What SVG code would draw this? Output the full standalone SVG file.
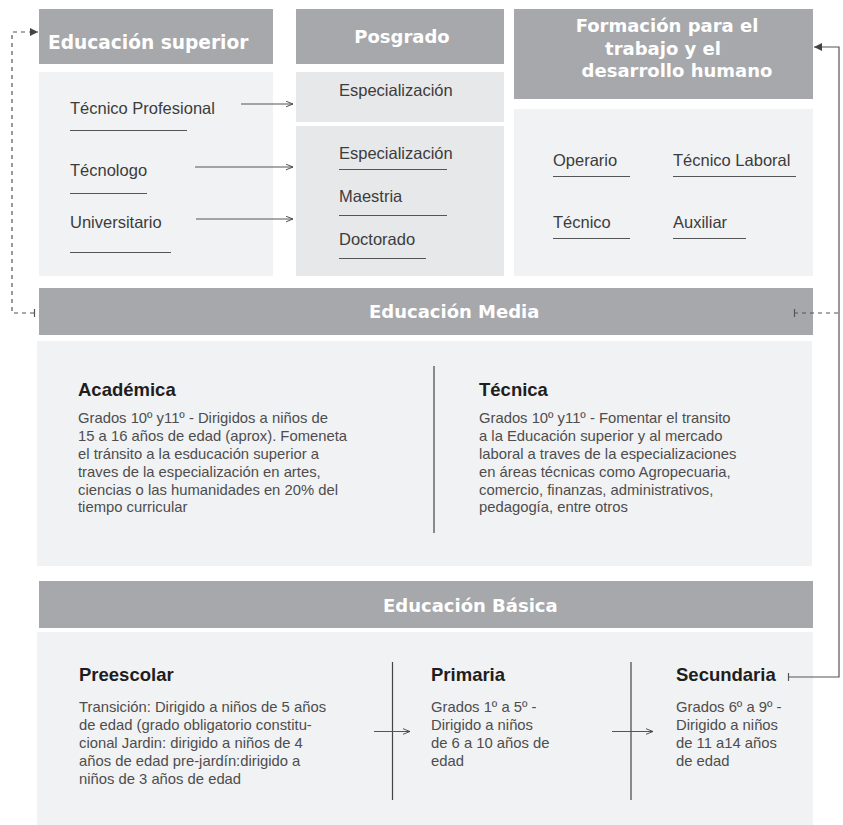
<svg xmlns="http://www.w3.org/2000/svg" width="843" height="825" viewBox="0 0 843 825">
<style>
.hdr{fill:#a7a8ab}
.body{fill:#f1f2f4}
.body2{fill:#e7e8ea}
.ht{font-family:"DejaVu Sans",sans-serif;font-weight:bold;font-size:18px;fill:#ffffff}
.it{font-family:"Liberation Sans",Arial,sans-serif;font-size:16.5px;fill:#3c3c3c}
.st{font-family:"Liberation Sans",Arial,sans-serif;font-weight:bold;font-size:18.5px;fill:#1e1e1e}
.pt{font-family:"Liberation Sans",Arial,sans-serif;font-size:14.8px;fill:#4d4d4d}
.ul{stroke:#555555;stroke-width:1;fill:none}
.div{stroke:#444444;stroke-width:1.2;fill:none}
.con{stroke:#555555;stroke-width:1.2;fill:none}
.dash{stroke:#555555;stroke-width:1.2;fill:none;stroke-dasharray:4 4}
</style>
<defs>
<marker id="open" viewBox="0 0 10 10" refX="10" refY="5" markerWidth="9" markerHeight="7" markerUnits="userSpaceOnUse" orient="auto">
<path d="M0,1 L10,5 L0,9" fill="none" stroke="#444444" stroke-width="1.3"/>
</marker>
<marker id="fill" viewBox="0 0 10 10" refX="10" refY="5" markerWidth="9" markerHeight="8" markerUnits="userSpaceOnUse" orient="auto">
<path d="M0,0 L10,5 L0,10 z" fill="#444444"/>
</marker>
</defs>

<g id="educacion-superior">
<rect class="hdr" x="39" y="9" width="234" height="55"/>
<text class="ht" x="48" y="49" style="font-size:18.6px">Educación superior</text>
<rect class="body" x="39" y="72" width="234" height="204"/>
<text class="it" x="70" y="114">Técnico Profesional</text>
<line class="ul" x1="70" y1="130.5" x2="187" y2="130.5"/>
<text class="it" x="70" y="176">Técnologo</text>
<line class="ul" x1="70" y1="193.5" x2="147" y2="193.5"/>
<text class="it" x="70" y="228">Universitario</text>
<line class="ul" x1="70" y1="252.5" x2="171" y2="252.5"/>
</g>

<g id="posgrado">
<rect class="hdr" x="296" y="9" width="208" height="55"/>
<text class="ht" x="402" y="43" text-anchor="middle">Posgrado</text>
<rect class="body2" x="296" y="72" width="208" height="50"/>
<text class="it" x="339" y="96">Especialización</text>
<rect class="body2" x="296" y="126" width="208" height="150"/>
<text class="it" x="339" y="159">Especialización</text>
<line class="ul" x1="339" y1="169.5" x2="447" y2="169.5"/>
<text class="it" x="339" y="202">Maestria</text>
<line class="ul" x1="339" y1="215.5" x2="447" y2="215.5"/>
<text class="it" x="339" y="245">Doctorado</text>
<line class="ul" x1="339" y1="258.5" x2="426" y2="258.5"/>
</g>

<g id="formacion-trabajo">
<rect class="hdr" x="514" y="9" width="299" height="90"/>
<text class="ht" x="667" y="32" text-anchor="middle">Formación para el</text>
<text class="ht" x="663" y="54.5" text-anchor="middle">trabajo y el</text>
<text class="ht" x="677" y="77" text-anchor="middle">desarrollo humano</text>
<rect class="body" x="514" y="109" width="299" height="167"/>
<text class="it" x="553" y="166">Operario</text>
<line class="ul" x1="553" y1="176.5" x2="630" y2="176.5"/>
<text class="it" x="673" y="166">Técnico Laboral</text>
<line class="ul" x1="673" y1="176.5" x2="796" y2="176.5"/>
<text class="it" x="553" y="228">Técnico</text>
<line class="ul" x1="553" y1="238.5" x2="630" y2="238.5"/>
<text class="it" x="673" y="228">Auxiliar</text>
<line class="ul" x1="673" y1="238.5" x2="746" y2="238.5"/>
</g>

<g id="educacion-media">
<rect class="hdr" x="39" y="288" width="774" height="47"/>
<text class="ht" x="369" y="318">Educación Media</text>
<rect class="body" x="37" y="341" width="775" height="225"/>
<line class="div" x1="434" y1="366" x2="434" y2="533"/>
<text class="st" x="78" y="396">Académica</text>
<text class="pt" x="78">
<tspan x="78" y="423">Grados 10º y11º - Dirigidos a niños de</tspan>
<tspan x="78" y="441">15 a 16 años de edad (aprox). Fomeneta</tspan>
<tspan x="78" y="459">el tránsito a la esducación superior a</tspan>
<tspan x="78" y="477">traves de la especialización en artes,</tspan>
<tspan x="78" y="494.5">ciencias o las humanidades en 20% del</tspan>
<tspan x="78" y="512">tiempo curricular</tspan>
</text>
<text class="st" x="479" y="396">Técnica</text>
<text class="pt" x="479">
<tspan x="479" y="423">Grados 10º y11º - Fomentar el transito</tspan>
<tspan x="479" y="441">a la Educación superior y al mercado</tspan>
<tspan x="479" y="459">laboral a traves de la especializaciones</tspan>
<tspan x="479" y="477">en áreas técnicas como Agropecuaria,</tspan>
<tspan x="479" y="494.5">comercio, finanzas, administrativos,</tspan>
<tspan x="479" y="512">pedagogía, entre otros</tspan>
</text>
</g>

<g id="educacion-basica">
<rect class="hdr" x="39" y="581" width="774" height="47"/>
<text class="ht" x="383" y="611.5">Educación Básica</text>
<rect class="body" x="37" y="632" width="776" height="193"/>
<line class="div" x1="392.5" y1="662" x2="392.5" y2="800"/>
<line class="div" x1="631" y1="662" x2="631" y2="800"/>
<text class="st" x="79" y="681">Preescolar</text>
<text class="pt" x="79">
<tspan x="79" y="712">Transición: Dirigido a niños de 5 años</tspan>
<tspan x="79" y="730">de edad (grado obligatorio constitu-</tspan>
<tspan x="79" y="748">cional Jardin: dirigido a niños de 4</tspan>
<tspan x="79" y="766">años de edad pre-jardín:dirigido a</tspan>
<tspan x="79" y="783.5">niños de 3 años de edad</tspan>
</text>
<text class="st" x="431" y="681">Primaria</text>
<text class="pt" x="431">
<tspan x="431" y="712">Grados 1º a 5º -</tspan>
<tspan x="431" y="730">Dirigido a niños</tspan>
<tspan x="431" y="748">de 6 a 10 años de</tspan>
<tspan x="431" y="766">edad</tspan>
</text>
<text class="st" x="676" y="681">Secundaria</text>
<text class="pt" x="676">
<tspan x="676" y="712">Grados 6º a 9º -</tspan>
<tspan x="676" y="730">Dirigido a niños</tspan>
<tspan x="676" y="748">de 11 a14 años</tspan>
<tspan x="676" y="766">de edad</tspan>
</text>
</g>

<g id="connectors">
<path class="con" d="M241,104 H293" marker-end="url(#open)"/>
<path class="con" d="M195,167 H293" marker-end="url(#open)"/>
<path class="con" d="M196,219 H293" marker-end="url(#open)"/>
<path class="con" d="M374,731.5 H410" marker-end="url(#open)"/>
<path class="con" d="M612,731.5 H653" marker-end="url(#open)"/>
<path class="dash" d="M34,313 H12 V32 H38" marker-end="url(#fill)"/>
<line class="con" x1="34.5" y1="309" x2="34.5" y2="317"/>
<path class="dash" d="M794,313 H839"/>
<line class="con" x1="794.5" y1="309" x2="794.5" y2="317"/>
<path class="con" d="M788,677 H839 V47 H814" marker-end="url(#fill)"/>
<line class="con" x1="788.5" y1="673" x2="788.5" y2="681"/>
</g>
</svg>
